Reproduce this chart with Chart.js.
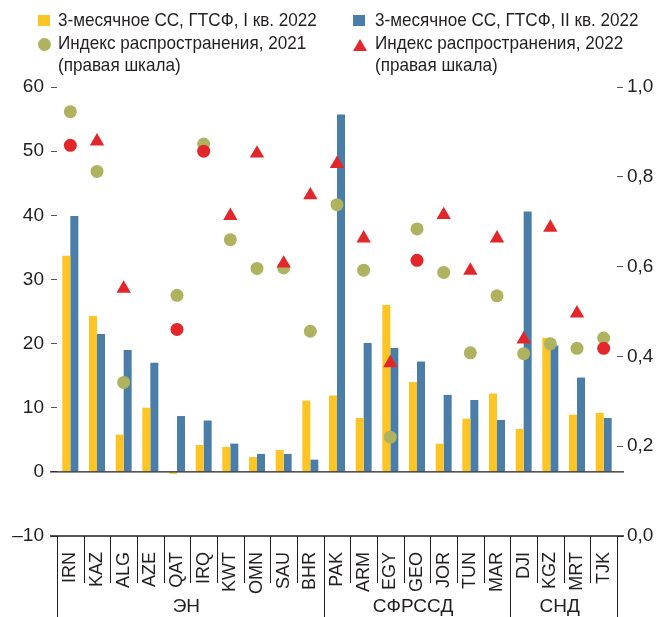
<!DOCTYPE html>
<html lang="ru">
<head>
<meta charset="utf-8">
<title>Индекс распространения и 3-месячное СС</title>
<script src="https://cdn.jsdelivr.net/npm/chart.js@4.4.1/dist/chart.umd.min.js"></script>
<style>
  html, body { margin: 0; padding: 0; background: #fff; }
  #wrap { position: relative; width: 670px; height: 617px; }
  #wrap canvas { position: absolute; left: 0; top: 0; }
  .lg { position: absolute; font-family: 'Liberation Sans', Arial, sans-serif;
        font-size: 19px; line-height: 22.5px; color: #231f20; white-space: nowrap;
        transform: scaleX(0.9); transform-origin: 0 0; }
  .sw { position: absolute; }
</style>
</head>
<body>
<div id="wrap">
  <canvas id="chart" width="670" height="617"></canvas>

  <div class="sw" style="left:38px;top:15px;width:12px;height:11px;background:#fcc524"></div>
  <div class="lg" style="left:58px;top:9px">3-месячное СС, ГТСФ, I кв. 2022</div>
  <div class="sw" style="left:37.5px;top:37.5px;width:13px;height:13px;border-radius:50%;background:#afb35f"></div>
  <div class="lg" style="left:58px;top:31.5px">Индекс распространения, 2021<br>(правая шкала)</div>

  <div class="sw" style="left:353px;top:15px;width:12px;height:11px;background:#4a7ea8"></div>
  <div class="lg" style="left:375px;top:9px">3-месячное СС, ГТСФ, II кв. 2022</div>
  <div class="sw" style="left:353px;top:39px;width:0;height:0;border-left:7px solid transparent;border-right:7px solid transparent;border-bottom:12px solid #e2262a"></div>
  <div class="lg" style="left:375px;top:31.5px">Индекс распространения, 2022<br>(правая шкала)</div>
</div>

<script>
const categories = ['IRN','KAZ','ALG','AZE','QAT','IRQ','KWT','OMN','SAU','BHR',
                    'PAK','ARM','EGY','GEO','JOR','TUN','MAR',
                    'DJI','KGZ','MRT','TJK'];
const groupNames = ['ЭН', 'СФРССД', 'СНД'];
const groupSizes = [10, 7, 4];

// 3-месячное СС, ГТСФ (левая шкала)
const q1_2022 = [33.7, 24.3, 5.8, 10.0, -0.3, 4.2, 3.9, 2.3, 3.4, 11.1,
                 11.9, 8.4, 26.0, 14.0, 4.4, 8.3, 12.2,
                 6.7, 20.9, 8.9, 9.2];
const q2_2022 = [39.9, 21.5, 19.0, 17.0, 8.7, 8.0, 4.4, 2.8, 2.8, 1.9,
                 55.7, 20.1, 19.3, 17.2, 12.0, 11.2, 8.1,
                 40.6, 19.7, 14.7, 8.4];

// Индекс распространения (правая шкала)
const idx2021 = [0.945, 0.812, 0.342, null, 0.536, 0.873, 0.660, 0.596, 0.597, 0.456,
                 0.738, 0.592, 0.220, 0.684, 0.587, 0.408, 0.535,
                 0.406, 0.428, 0.418, 0.441];
const idx2022 = [0.870, 0.879, 0.551, null, 0.460, 0.857, 0.713, 0.852, 0.607, 0.759,
                 0.829, 0.663, 0.385, 0.614, 0.715, 0.591, 0.663,
                 0.438, 0.687, 0.496, 0.418];

const leftTicks = { min: -10, max: 60, step: 10 };
const rightTicks = { min: 0, max: 1, step: 0.2 };

const FONT = "'Liberation Sans', Arial, sans-serif";
const INK = '#231f20';

// circle if the index fell vs 2021, triangle otherwise
const style2022 = idx2022.map((v, i) => (v != null && idx2021[i] != null && v < idx2021[i]) ? 'circle' : 'triangle');

const axisDecor = {
  id: 'axisDecor',
  afterDraw(chart) {
    const { ctx, chartArea: a, scales } = chart;
    const step = (a.right - a.left) / categories.length;
    ctx.save();
    ctx.strokeStyle = INK;

    ctx.lineWidth = 1.4;
    const y0 = scales.y.getPixelForValue(0);
    ctx.beginPath();
    ctx.moveTo(a.left - 7, y0); ctx.lineTo(a.right + 7, y0);
    ctx.moveTo(a.left - 7, a.bottom); ctx.lineTo(a.right + 7, a.bottom);
    ctx.stroke();

    const edges = [0];
    groupSizes.forEach(n => edges.push(edges[edges.length - 1] + n));

    ctx.lineWidth = 1;
    ctx.beginPath();
    for (let i = 0; i <= categories.length; i++) {
      const x = Math.round(a.left + i * step) + 0.5;
      ctx.moveTo(x, a.bottom);
      ctx.lineTo(x, edges.includes(i) ? chart.height : a.bottom + 47);
    }
    ctx.stroke();

    ctx.fillStyle = INK;
    ctx.font = '19px ' + FONT;
    ctx.textAlign = 'center';
    ctx.textBaseline = 'middle';
    groupNames.forEach((name, g) => {
      const x = a.left + (edges[g] + edges[g + 1]) / 2 * step;
      ctx.fillText(name, x - 4, 607);
    });
    ctx.restore();
  }
};

new Chart(document.getElementById('chart'), {
  type: 'bar',
  data: {
    labels: categories,
    datasets: [
      { label: 'Индекс распространения, 2022', type: 'line', data: idx2022, yAxisID: 'y1', showLine: false,
        order: 0, pointStyle: style2022, backgroundColor: '#e2262a', borderWidth: 0,
        pointRadius: c => style2022[c.dataIndex] === 'circle' ? 6.5 : 8.3 },
      { label: 'Индекс распространения, 2021', type: 'line', data: idx2021, yAxisID: 'y1', showLine: false,
        order: 1, pointStyle: 'circle', backgroundColor: '#afb35f', borderWidth: 0, pointRadius: 6.5 },
      { label: '3-месячное СС, ГТСФ, I кв. 2022', data: q1_2022, yAxisID: 'y', order: 2,
        backgroundColor: '#fcc524', barPercentage: 1, categoryPercentage: 0.6 },
      { label: '3-месячное СС, ГТСФ, II кв. 2022', data: q2_2022, yAxisID: 'y', order: 2,
        backgroundColor: '#4a7ea8', barPercentage: 1, categoryPercentage: 0.6 }
    ]
  },
  options: {
    responsive: false,
    animation: false,
    layout: { padding: { top: 87, left: 0, right: 0, bottom: 0 } },
    plugins: { legend: { display: false }, tooltip: { enabled: false } },
    scales: {
      x: {
        offset: true,
        grid: { display: false, drawTicks: false },
        border: { display: false },
        ticks: { autoSkip: false, minRotation: 90, maxRotation: 90, padding: 16,
                 color: INK, font: { family: FONT, size: 18 } },
        afterFit: s => { s.height = 81; }
      },
      y: {
        position: 'left',
        min: leftTicks.min, max: leftTicks.max,
        grid: { drawOnChartArea: false, drawTicks: true, tickLength: 6, color: '#555' },
        border: { display: false },
        ticks: { stepSize: leftTicks.step, padding: 7, color: INK, font: { family: FONT, size: 19 },
                 callback: v => v < 0 ? '–' + Math.abs(v) : String(v) },
        afterFit: s => { s.width = 57; }
      },
      y1: {
        position: 'right',
        min: rightTicks.min, max: rightTicks.max,
        grid: { drawOnChartArea: false, drawTicks: true, tickLength: 6, color: '#555' },
        border: { display: false },
        ticks: { stepSize: rightTicks.step, padding: 4, color: INK, font: { family: FONT, size: 19 },
                 callback: v => v.toFixed(1).replace('.', ',') },
        afterFit: s => { s.width = 53; }
      }
    }
  },
  plugins: [axisDecor]
});
</script>
</body>
</html>
